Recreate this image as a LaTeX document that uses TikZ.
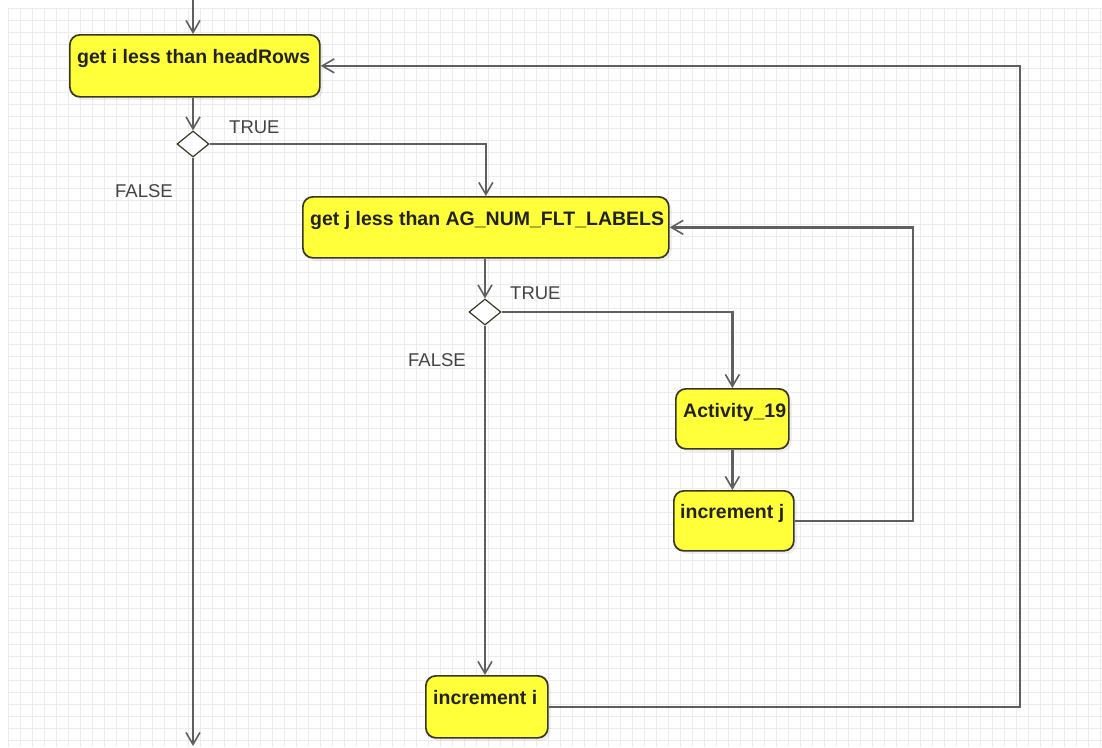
\documentclass[tikz,border=0pt]{standalone}
\usepackage{fontspec}
\setmainfont{Liberation Sans}
\usetikzlibrary{arrows.meta,shapes.geometric,shadows,calc}
\definecolor{actfill}{RGB}{255,255,58}
\definecolor{actedge}{RGB}{55,55,35}
\definecolor{flow}{RGB}{95,95,95}
\definecolor{gridc}{RGB}{236,236,236}
\definecolor{ink}{RGB}{34,34,34}
\tikzset{
  actbox/.style={draw=actedge, line width=1.7pt, fill=actfill, rounded corners=10pt,
    inner sep=0pt, anchor=north west,
    drop shadow={shadow xshift=3pt, shadow yshift=-3pt, opacity=0.12}},
  acttext/.style={anchor=base west, inner sep=0pt, text=ink,
    font=\fontsize{19.5}{22}\selectfont\bfseries},
  decision/.style={diamond, draw=actedge, line width=1.2pt, fill=white, inner sep=0pt,
    minimum width=32pt, minimum height=26pt},
  guard/.style={anchor=base west, inner sep=0pt, text=ink!85,
    font=\fontsize{18.5}{22}\selectfont},
  flowline/.style={draw=flow, line width=2.4pt},
  arr/.style={flowline, -{Straight Barb[length=12pt,width=14pt,line width=1.6pt]}}
}
\begin{document}
\begin{tikzpicture}[x=1pt,y=-1pt]
\useasboundingbox (0,0) rectangle (1102,747);
% background grid
\fill[white] (0,0) rectangle (1102,747);
\foreach \gx in {8,20,...,1100} \draw[gridc, line width=0.9pt] (\gx,8) -- (\gx,747);
\foreach \gy in {8,20,...,746} \draw[gridc, line width=0.9pt] (8,\gy) -- (1102,\gy);

% activities
\node[actbox, minimum width=250pt, minimum height=62pt] (A) at (69,34) {};
\node[acttext] (At) at ($(A.north west)+(8,29)$) {get i less than headRows};
\node[actbox, minimum width=366pt, minimum height=61pt] (B) at (302,196) {};
\node[acttext] (Bt) at ($(B.north west)+(8,29)$) {get j less than AG\_NUM\_FLT\_LABELS};
\node[actbox, minimum width=113pt, minimum height=60pt] (Act) at (675,388) {};
\node[acttext] (Actt) at ($(Act.north west)+(8,29)$) {Activity\_19};
\node[actbox, minimum width=120pt, minimum height=60pt] (incj) at (673,490) {};
\node[acttext] (incjt) at ($(incj.north west)+(7,28)$) {increment j};
\node[actbox, minimum width=122pt, minimum height=62pt] (inci) at (425,675) {};
\node[acttext] (incit) at ($(inci.north west)+(8,29)$) {increment i};

% decisions
\node[decision] (d1) at (193,144) {};
\node[decision] (d2) at (485,312) {};

% guard labels
\node[guard] (t1) at (229,133) {TRUE};
\node[guard] (f1) at (115,197) {FALSE};
\node[guard] (t2) at (510,299) {TRUE};
\node[guard] (f2) at (408,366) {FALSE};

% free ends and bends
\coordinate (in) at (193,0);
\coordinate (out) at (193,746);
\coordinate (rj) at (913,0);
\coordinate (ri) at (1020,0);

% flows
\draw[arr] (in) -- (in |- A.north);
\draw[arr] (A.south -| d1) -- (d1.north);
\draw[arr] (d1.east) -| (B.north);
\draw[arr] (d1.south) -- (out);
\draw[arr] (B.south -| d2) -- (d2.north);
\draw[arr] (d2.east) -| (Act.north);
\draw[arr] (Act.south) -- (Act.south |- incj.north);
\draw[arr] (incj.east) -- (incj.east -| rj) -- (rj |- B.east) -- (B.east);
\draw[arr] (d2.south) -- (d2.south |- inci.north);
\draw[arr] (inci.east) -- (inci.east -| ri) -- (ri |- A.east) -- (A.east);
\end{tikzpicture}
\end{document}
